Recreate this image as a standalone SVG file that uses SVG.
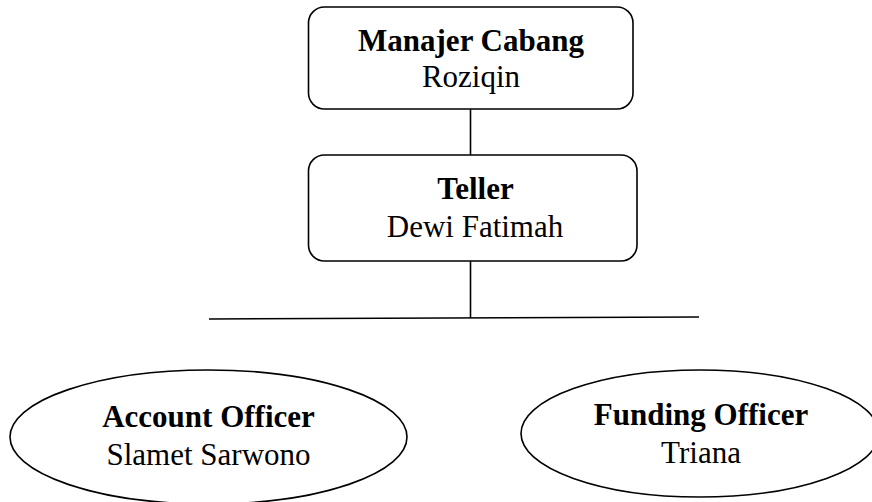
<svg xmlns="http://www.w3.org/2000/svg" width="872" height="502" viewBox="0 0 872 502">
<style>
.box{fill:#fff;stroke:#000;stroke-width:1.6}
.conn{stroke:#000;stroke-width:1.6;fill:none}
.t{font-family:'Liberation Serif','Times New Roman',Times,serif;font-size:31px;fill:#000;text-anchor:middle}
.b{font-weight:bold}
</style>
<rect width="872" height="502" fill="#fff"/>
<g id="connectors">
<line class="conn" x1="470.5" y1="109" x2="470.5" y2="155"/>
<line class="conn" x1="470.5" y1="261" x2="470.5" y2="318"/>
<line class="conn" x1="209" y1="319" x2="699" y2="317" stroke-width="2"/>
</g>
<g id="manajer">
<rect class="box" x="308.5" y="7" width="324.5" height="102" rx="16"/>
<text class="t b" x="471" y="50.5">Manajer Cabang</text>
<text class="t" x="471" y="87">Roziqin</text>
</g>
<g id="teller">
<rect class="box" x="308.5" y="155" width="328.5" height="106" rx="16"/>
<text class="t b" x="475.5" y="199">Teller</text>
<text class="t" x="475" y="237">Dewi Fatimah</text>
</g>
<g id="account">
<ellipse class="box" cx="208.5" cy="437" rx="198.5" ry="67"/>
<text class="t b" x="208.5" y="427">Account Officer</text>
<text class="t" x="208.5" y="465">Slamet Sarwono</text>
</g>
<g id="funding">
<ellipse class="box" cx="700" cy="433.5" rx="179" ry="63.5"/>
<text class="t b" x="701" y="425">Funding Officer</text>
<text class="t" x="701" y="463">Triana</text>
</g>
</svg>
